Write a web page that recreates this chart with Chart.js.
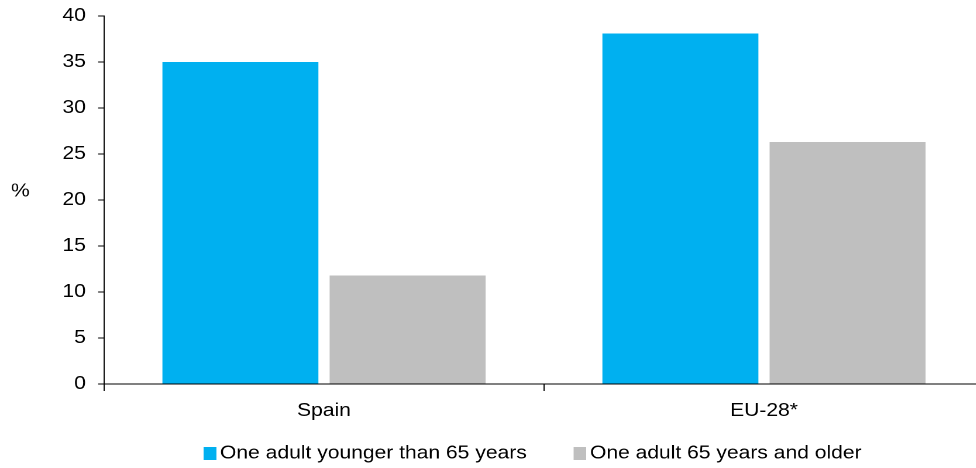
<!DOCTYPE html>
<html>
<head>
<meta charset="utf-8">
<script src="https://cdn.jsdelivr.net/npm/chart.js@4/dist/chart.umd.min.js"></script>
<style>
  html, body { margin: 0; padding: 0; background: #fff; overflow: hidden; }
  #wrap { position: relative; width: 976px; height: 468px; overflow: hidden; }
  /* the chart is laid out narrower and widened horizontally, giving the wide-set lettering */
  #c { position: absolute; left: 0; top: 0; width: 846px; height: 468px;
       transform: scaleX(1.17); transform-origin: 0 0; }
</style>
</head>
<body>
<div id="wrap"><canvas id="c" width="846" height="468"></canvas></div>
<script>
// Single-adult households, share in % (Spain vs EU-28)
const categories = ['Spain', 'EU-28*'];
const seriesNames = ['One adult younger than 65 years', 'One adult 65 years and older'];
const youngerValues = [35.0, 38.1];
const olderValues = [11.8, 26.3];
const seriesColors = ['#00B0F0', '#BFBFBF'];
const yMin = 0, yMax = 40, yStep = 5;
const unitText = '%';

const FONT = "'Liberation Sans', Arial, Helvetica, sans-serif";
Chart.defaults.font.family = FONT;
Chart.defaults.font.size = 18;
Chart.defaults.color = '#000';

// legend swatch: a square sitting at the right of a small canvas,
// so the label text follows the square closely
function legendSwatch(color) {
  const c = document.createElement('canvas');
  c.width = 16;
  c.height = 13;
  const g = c.getContext('2d');
  g.fillStyle = color;
  g.fillRect(5, 0, 11, 13);
  return c;
}
const swatches = seriesColors.map(legendSwatch);

// unit label to the left of the value axis
const unitLabel = {
  id: 'unitLabel',
  afterDraw(chart) {
    const { ctx } = chart;
    const y = chart.scales.y.getPixelForValue(20.9);
    ctx.save();
    ctx.font = '18px ' + FONT;
    ctx.fillStyle = '#000';
    ctx.textAlign = 'left';
    ctx.textBaseline = 'middle';
    ctx.fillText(unitText, 9.4, y);
    ctx.restore();
  }
};

// place the legend row under the plot area
const legendSpan = {
  id: 'legendSpan',
  afterLayout(chart) {
    const lg = chart.legend;
    if (lg) {
      lg.left = chart.chartArea.left - 18.5;
      lg.top = chart.chartArea.bottom + 19.5;
      lg.bottom = chart.height;
    }
  }
};

new Chart(document.getElementById('c'), {
  type: 'bar',
  data: {
    labels: categories,
    datasets: [
      { label: seriesNames[0], data: youngerValues, backgroundColor: seriesColors[0], borderWidth: 0 },
      { label: seriesNames[1], data: olderValues, backgroundColor: seriesColors[1], borderWidth: 0 }
    ]
  },
  options: {
    responsive: false,
    animation: false,
    devicePixelRatio: 2,
    categoryPercentage: 0.76,
    barPercentage: 0.933,
    layout: { autoPadding: false, padding: { top: 16, left: 40, right: 5, bottom: 0 } },
    plugins: {
      tooltip: { enabled: false },
      legend: {
        position: 'bottom',
        maxHeight: 46,
        labels: {
          usePointStyle: true,
          pointStyleWidth: 4,
          boxHeight: 13,
          padding: 41,
          color: '#000',
          font: { size: 18 },
          generateLabels(chart) {
            const items = Chart.defaults.plugins.legend.labels.generateLabels(chart);
            items.forEach((it, i) => { it.pointStyle = swatches[i]; });
            return items;
          }
        }
      }
    },
    scales: {
      x: {
        afterFit(scale) { scale.height = 38; scale.paddingLeft = 0; scale.paddingRight = 0; },
        border: { display: true, color: '#000', width: 1 },
        grid: { drawOnChartArea: false, drawTicks: true, tickLength: 7, color: '#000', offset: true },
        ticks: { padding: 9, color: '#000', font: { size: 18 } }
      },
      y: {
        min: yMin,
        max: yMax,
        afterFit(scale) { scale.width = 48.9; scale.paddingTop = 0; scale.paddingBottom = 0; },
        border: { display: true, color: '#000', width: 1 },
        grid: { drawOnChartArea: false, drawTicks: true, tickLength: 5, color: '#000' },
        ticks: { stepSize: yStep, padding: 10.5, color: '#000', font: { size: 18 } }
      }
    }
  },
  plugins: [unitLabel, legendSpan]
});
</script>
</body>
</html>
